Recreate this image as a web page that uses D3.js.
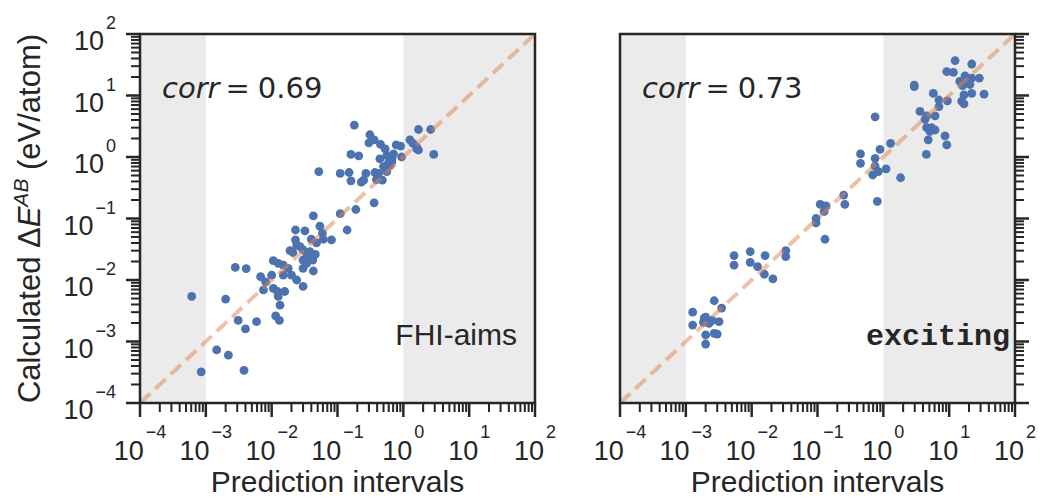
<!DOCTYPE html>
<html>
<head>
<meta charset="utf-8">
<script src="https://cdn.jsdelivr.net/npm/d3@7"></script>
<style>
html,body{margin:0;padding:0;background:#fff;}
svg{display:block;}
</style>
</head>
<body>
<svg id="chart" width="1041" height="501"></svg>
<script>
// ---------- data ----------
const panelNames = ["FHI-aims", "exciting"];
const corrValues = ["0.69", "0.73"];
const tickExponents = [-4, -3, -2, -1, 0, 1, 2];
const axisDomain = [1e-4, 1e2];
const bandLow = 1e-3;   // shaded below this prediction interval
const bandHigh = 1e0;   // shaded above this prediction interval
const xLabel = "Prediction intervals";

// [prediction interval, calculated ΔE] (eV/atom)
const fhiPoints = [
  [0.18,3.3],[1.7,2.8],[2.6,2.8],[0.31,2.3],[0.36,1.9],[0.30,1.7],[0.45,1.6],[0.53,1.35],
  [0.78,1.57],[0.91,1.5],[1.26,1.9],[1.4,1.66],[1.6,1.35],[2.9,1.1],[0.16,1.1],[0.21,1.04],
  [0.44,0.93],[0.56,1.05],[0.67,0.95],[0.94,1.0],[0.71,1.12],[0.50,0.70],[0.63,0.74],
  [0.052,0.58],[0.11,0.54],[0.15,0.56],[0.27,0.54],[0.37,0.56],[0.25,0.42],[0.23,0.39],
  [0.16,0.41],[0.39,0.43],[0.48,0.42],[0.56,0.65],[0.36,0.18],[0.19,0.14],[0.11,0.12],
  [0.14,0.065],[0.043,0.11],[1.6,1.44],[1.7,1.3],[0.67,0.84],[0.59,0.79],[0.42,0.54],[0.56,0.58],
  [0.023,0.065],[0.032,0.063],[0.054,0.075],[0.059,0.058],[0.081,0.045],[0.061,0.046],
  [0.023,0.045],[0.040,0.046],[0.024,0.037],[0.019,0.030],[0.021,0.028],[0.030,0.031],
  [0.038,0.029],[0.046,0.026],[0.034,0.024],[0.042,0.021],[0.030,0.021],[0.0106,0.0206],
  [0.0126,0.0186],[0.015,0.0175],[0.0178,0.0155],[0.030,0.0155],[0.043,0.014],[0.020,0.012],
  [0.015,0.012],[0.010,0.012],[0.0068,0.0113],[0.0081,0.0093],[0.0028,0.016],[0.0041,0.0153],
  [0.030,0.0079],[0.0106,0.0073],[0.0075,0.0069],[0.0123,0.0065],[0.0158,0.0065],
  [0.0126,0.0054],[0.0134,0.0039],[0.0115,0.0026],[0.0131,0.0022],[0.0059,0.0021],
  [0.0031,0.0022],[0.0040,0.0016],[0.0020,0.0049],[0.00061,0.0054],[0.00146,0.00073],
  [0.0022,0.0006],[0.00085,0.00032],[0.0038,0.00034],[0.024,0.010],[0.034,0.0186],
  [0.027,0.035],[0.048,0.040]
];

const excitingPoints = [
  [12.3,37],[22,32.5],[9.2,24.4],[11.6,23.8],[17.4,20.9],[22,19.1],[28.7,19.1],[19.5,16.8],
  [16,14.5],[20.7,15.1],[2.95,14.8],[2.95,13.9],[5.75,10.8],[16.8,10.2],[22,10.8],[33.9,10.5],
  [7.0,8.45],[9.4,8.2],[15.5,8.1],[16.8,7.3],[7.0,6.6],[3.6,5.5],[4.55,4.65],[6.1,4.65],
  [4.3,4.1],[4.55,3.0],[5.4,3.0],[6.1,2.75],[5.1,2.6],[4.8,1.9],[8.65,2.2],[9.2,1.57],
  [4.5,1.1],[0.75,4.5],[14.5,17],[18,18],
  [1.29,1.67],[0.45,1.12],[0.45,0.79],[0.75,0.95],[0.89,1.33],[0.75,0.71],[0.84,0.58],
  [0.69,0.51],[1.1,0.64],[1.83,0.46],[0.81,0.19],[0.25,0.24],[0.26,0.17],[0.11,0.17],
  [0.135,0.16],[0.126,0.13],[0.095,0.10],[0.095,0.085],[0.13,0.046],
  [0.0054,0.025],[0.0054,0.0175],[0.0095,0.029],[0.0095,0.0194],[0.016,0.025],
  [0.0123,0.0165],[0.0156,0.0124],[0.021,0.0104],[0.033,0.030],[0.033,0.024],
  [0.0027,0.0046],[0.0035,0.0035],[0.00127,0.0030],[0.00127,0.00185],[0.0020,0.0025],
  [0.00185,0.00205],[0.00225,0.00197],[0.0025,0.0022],[0.0032,0.0021],[0.0027,0.00136],
  [0.0030,0.00132],[0.0020,0.00128],[0.0020,0.00091],[0.0019,0.0024]
];

const panelData = [fhiPoints, excitingPoints];

// ---------- styles / layout ----------
const ink = "#262626";
const dotColor = "#4c72b0";
const lineColor = "#dd8452";
const bandColor = "#ebebeb";
const plotTop = 34, plotBottom = 403;
const panelX = [[140, 535], [620, 1015]];

const svg = d3.select("#chart");

panelX.forEach((px, i) => {
  const x = d3.scaleLog().domain(axisDomain).range(px);
  const y = d3.scaleLog().domain(axisDomain).range([plotBottom, plotTop]);
  const g = svg.append("g");

  // shaded bands
  g.append("rect").attr("x", x(axisDomain[0])).attr("y", plotTop)
    .attr("width", x(bandLow) - x(axisDomain[0])).attr("height", plotBottom - plotTop)
    .attr("fill", bandColor);
  g.append("rect").attr("x", x(bandHigh)).attr("y", plotTop)
    .attr("width", x(axisDomain[1]) - x(bandHigh)).attr("height", plotBottom - plotTop)
    .attr("fill", bandColor);

  // points
  g.selectAll("circle.pt").data(panelData[i]).enter().append("circle")
    .attr("class", "pt")
    .attr("cx", d => x(d[0])).attr("cy", d => y(d[1]))
    .attr("r", 4.4).attr("fill", dotColor);

  // diagonal
  g.append("line")
    .attr("x1", x(axisDomain[0])).attr("y1", y(axisDomain[0]))
    .attr("x2", x(axisDomain[1])).attr("y2", y(axisDomain[1]))
    .attr("stroke", lineColor).attr("stroke-opacity", 0.5)
    .attr("stroke-width", 4).attr("stroke-dasharray", "14,7");

  // frame
  g.append("rect").attr("x", px[0]).attr("y", plotTop)
    .attr("width", px[1] - px[0]).attr("height", plotBottom - plotTop)
    .attr("fill", "none").attr("stroke", ink).attr("stroke-width", 2.5);

  // ticks
  const isMajor = v => Math.abs(Math.log10(v) - Math.round(Math.log10(v))) < 1e-9;
  g.selectAll("line.xt").data(x.ticks()).enter().append("line")
    .attr("x1", d => x(d)).attr("x2", d => x(d))
    .attr("y1", plotBottom).attr("y2", d => plotBottom + (isMajor(d) ? 14 : 9))
    .attr("stroke", ink).attr("stroke-width", d => isMajor(d) ? 2.5 : 2);
  const side = i === 0 ? px[0] : px[1];
  const dir = i === 0 ? -1 : 1;
  g.selectAll("line.yt").data(y.ticks()).enter().append("line")
    .attr("y1", d => y(d)).attr("y2", d => y(d))
    .attr("x1", side).attr("x2", d => side + dir * (isMajor(d) ? 14 : 9))
    .attr("stroke", ink).attr("stroke-width", d => isMajor(d) ? 2.5 : 2);

  // x tick labels
  tickExponents.forEach(e => {
    const t = g.append("text").attr("x", x(Math.pow(10, e))).attr("y", 460)
      .attr("text-anchor", "middle").attr("fill", ink)
      .style("font-family", "'Liberation Sans', Arial, sans-serif");
    t.append("tspan").attr("font-size", 27).text("10");
    t.append("tspan").attr("font-size", 18).attr("dx", 2).attr("dy", -22)
      .text(String(e).replace("-", "\u2212"));
  });

  // y tick labels (left only)
  if (i === 0) {
    tickExponents.forEach(e => {
      const t = g.append("text").attr("x", 116).attr("y", y(Math.pow(10, e)) + 16)
        .attr("text-anchor", "end").attr("fill", ink)
        .style("font-family", "'Liberation Sans', Arial, sans-serif");
      t.append("tspan").attr("font-size", 27).text("10");
      t.append("tspan").attr("font-size", 18).attr("dx", 2).attr("dy", -21)
        .text(String(e).replace("-", "\u2212"));
    });
  }

  // x label
  g.append("text").attr("x", (px[0] + px[1]) / 2).attr("y", 492)
    .attr("text-anchor", "middle").attr("fill", ink).attr("font-size", 30)
    .style("font-family", "'Liberation Sans', Arial, sans-serif")
    .text(xLabel);

  // corr annotation
  const c = g.append("text").attr("x", px[0] + 22).attr("y", 98)
    .attr("fill", ink).attr("font-size", 29)
    .style("font-family", "'DejaVu Sans', sans-serif");
  c.append("tspan").attr("font-style", "italic").text("corr");
  c.append("tspan").attr("dx", 6).text("=");
  c.append("tspan").attr("dx", 8).text(corrValues[i]);

  // panel name
  const n = g.append("text").attr("x", px[1] - (i === 0 ? 18 : 5)).attr("y", 345)
    .attr("text-anchor", "end").attr("fill", ink).attr("font-size", 30)
    .text(panelNames[i]);
  if (i === 0) {
    n.style("font-family", "'Liberation Sans', Arial, sans-serif");
  } else {
    n.style("font-family", "'Liberation Mono', 'Courier New', monospace").attr("font-weight", "bold");
  }
});

// y label
const yl = svg.append("text")
  .attr("transform", `translate(40,${(plotTop + plotBottom) / 2}) rotate(-90)`)
  .attr("text-anchor", "middle").attr("fill", ink).attr("font-size", 31)
  .style("font-family", "'Liberation Sans', Arial, sans-serif");
yl.append("tspan").text("Calculated \u0394");
yl.append("tspan").attr("font-style", "italic").text("E");
yl.append("tspan").attr("font-style", "italic").attr("font-size", 21).attr("dy", -12).text("AB");
yl.append("tspan").attr("dy", 12).text(" (eV/atom)");
</script>
</body>
</html>
